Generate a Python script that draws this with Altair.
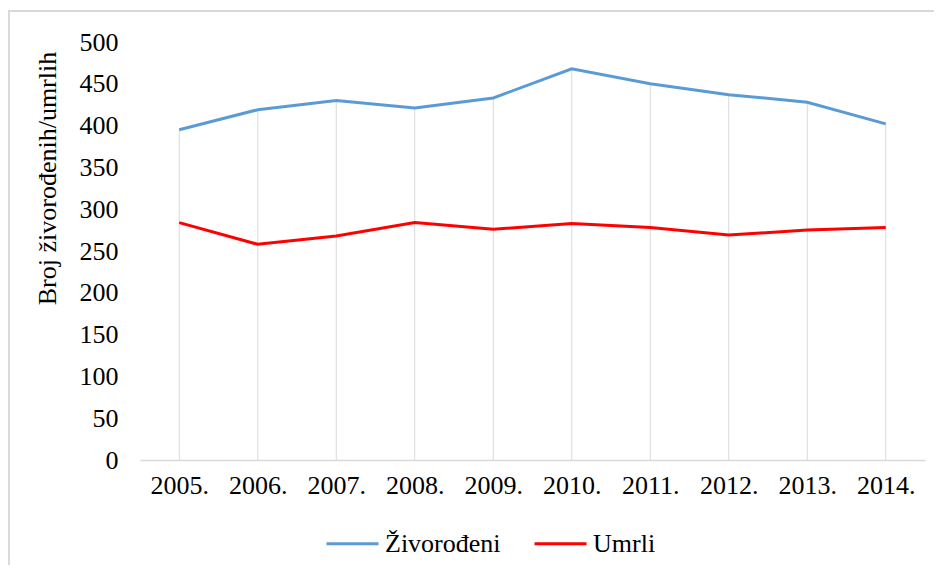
import altair as alt
import pandas as pd

years = ["2005.", "2006.", "2007.", "2008.", "2009.", "2010.", "2011.", "2012.", "2013.", "2014."]
births = [395, 419, 430, 421, 433, 468, 450, 437, 428, 402]
deaths = [284, 258, 268, 284, 276, 283, 278, 269, 275, 278]
series = ["Živorođeni", "Umrli"]
colors = ["#5B9BD5", "#FF0000"]
y_ticks = list(range(0, 501, 50))

FONT = "Liberation Serif"

long_df = pd.DataFrame({
    "Godina": years * 2,
    "Broj": births + deaths,
    "Serija": [series[0]] * len(years) + [series[1]] * len(years),
})
drop_df = pd.DataFrame({
    "Godina": years,
    "vrh": [max(b, d) for b, d in zip(births, deaths)],
    "dno": [0] * len(years),
})

x_enc = alt.X("Godina:O", sort=years,
              scale=alt.Scale(type="point", padding=0.5),
              axis=alt.Axis(title=None, labelAngle=0, ticks=False, grid=False,
                            domainColor="#D9D9D9", domainWidth=1.3,
                            labelFont=FONT, labelFontSize=26, labelColor="#000000",
                            labelPadding=12))

y_scale = alt.Scale(domain=[0, 500], nice=False)

drops = alt.Chart(drop_df).mark_rule(color="#D9D9D9", strokeWidth=1).encode(
    x=x_enc,
    y=alt.Y("vrh:Q", scale=y_scale),
    y2=alt.Y2("dno:Q"),
)

lines = alt.Chart(long_df).mark_line(strokeWidth=3).encode(
    x=x_enc,
    y=alt.Y("Broj:Q",
            scale=y_scale,
            axis=alt.Axis(title="Broj živorođenih/umrlih", values=y_ticks,
                          domain=False, ticks=False, grid=False,
                          labelFont=FONT, labelFontSize=26, labelColor="#000000",
                          labelPadding=22,
                          titleFont=FONT, titleFontSize=26, titleFontWeight="normal",
                          titleColor="#000000", titleAngle=270,
                          titleX=-93, titleY=136, titleBaseline="middle",
                          titleAlign="center")),
    color=alt.Color("Serija:N", sort=series,
                    scale=alt.Scale(domain=series, range=colors),
                    legend=alt.Legend(title=None, orient="none", direction="horizontal",
                                      legendX=185, legendY=474,
                                      symbolType="stroke", symbolStrokeWidth=3,
                                      symbolSize=2704, labelFont=FONT,
                                      labelFontSize=26, labelColor="#000000",
                                      labelOffset=5, columnPadding=27)),
)

border_top = alt.Chart(drop_df).mark_rule(color="#D9D9D9", strokeWidth=1.5).encode(
    x=alt.value(-132), x2=alt.value(800), y=alt.value(-31)
)
border_left = alt.Chart(drop_df).mark_rule(color="#D9D9D9", strokeWidth=1.5).encode(
    x=alt.value(-131.5), y=alt.value(-31), y2=alt.value(540)
)

chart = alt.layer(border_top, border_left, drops, lines).properties(
    width=785, height=418,
    autosize=alt.AutoSizeParams(type="none"),
    padding={"left": 132, "top": 34, "right": 9, "bottom": 105},
    background="white",
).configure_view(strokeWidth=0, stroke="transparent").configure_axis(grid=False)

chart.save("out.html", embed_options={"renderer": "svg", "actions": False})
